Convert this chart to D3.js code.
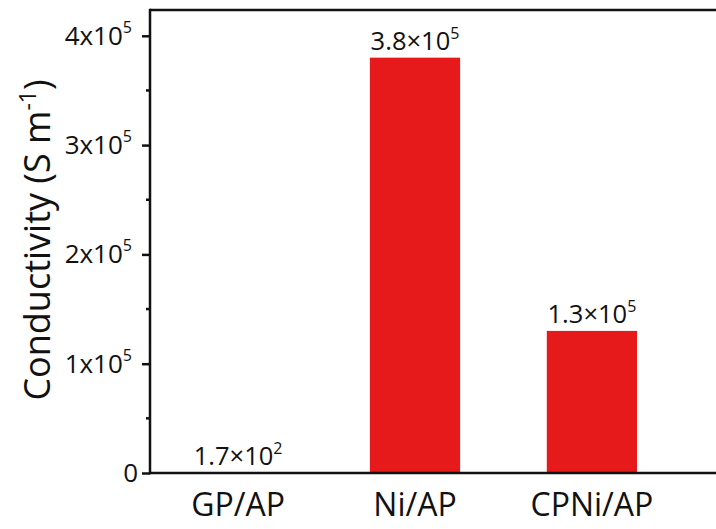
<!DOCTYPE html>
<html>
<head>
<meta charset="utf-8">
<script src="https://cdn.jsdelivr.net/npm/d3@7"></script>
<style>
  body { margin: 0; background: #fff; }
  text { font-family: "Open Sans", Lato, sans-serif; fill: #111; }
</style>
</head>
<body>
<svg id="chart" width="716" height="529"></svg>
<script>
"use strict";

// data
var categories = ["GP/AP", "Ni/AP", "CPNi/AP"];
var values = [170, 380000, 130000];
var valueMant = ["1.7", "3.8", "1.3"];
var valueExp = ["2", "5", "5"];
var yTicks = [0, 100000, 200000, 300000, 400000];
var yTickLabels = ["0", "1", "2", "3", "4"];

var svg = d3.select("#chart");
var plotLeft = 150, plotTop = 10, plotBottom = 473, plotRight = 716;

var x = d3.scaleBand()
  .domain(categories)
  .range([plotLeft, 680])
  .paddingInner(0.49)
  .paddingOuter(0.243);

var y = d3.scaleLinear()
  .domain([0, 423600])
  .range([plotBottom, plotTop]);

// bars
svg.selectAll(".bar")
  .data(values)
  .enter().append("rect")
  .attr("class", "bar")
  .attr("x", function (d, i) { return x(categories[i]); })
  .attr("width", x.bandwidth())
  .attr("y", function (d) { return y(d); })
  .attr("height", function (d) { return plotBottom - y(d); })
  .attr("fill", "#e6191b");

// value labels
var vl = svg.selectAll(".vlab")
  .data(values)
  .enter().append("text")
  .attr("class", "vlab")
  .attr("x", function (d, i) { return x(categories[i]) + x.bandwidth() / 2; })
  .attr("y", function (d) { return y(d) - 8; })
  .attr("text-anchor", "middle")
  .style("font-size", "25.5px");
vl.append("tspan").text(function (d, i) { return valueMant[i] + "×10"; });
vl.append("tspan")
  .attr("dy", -11)
  .style("font-size", "16px")
  .text(function (d, i) { return valueExp[i]; });

// y axis
var yAxis = d3.axisLeft(y)
  .tickValues(yTicks)
  .tickSize(8)
  .tickFormat("");
var gy = svg.append("g")
  .attr("transform", "translate(" + plotLeft + ",0)")
  .call(yAxis);
gy.select(".domain").remove();
gy.selectAll(".tick line").attr("stroke", "#111").attr("stroke-width", 2.5);

// minor ticks
var minor = d3.range(50000, 423600, 100000);
svg.selectAll(".minor")
  .data(minor)
  .enter().append("line")
  .attr("x1", plotLeft - 4).attr("x2", plotLeft)
  .attr("y1", function (d) { return y(d); })
  .attr("y2", function (d) { return y(d); })
  .attr("stroke", "#111").attr("stroke-width", 2.5);

// tick labels
var tl = svg.selectAll(".ytl")
  .data(yTicks)
  .enter().append("text")
  .attr("class", "ytl")
  .attr("x", function (d) { return d === 0 ? plotLeft - 12 : plotLeft - 18; })
  .attr("y", function (d) { return y(d) + 9; })
  .attr("text-anchor", "end")
  .style("font-size", "26px");
tl.append("tspan").text(function (d, i) { return d === 0 ? "0" : yTickLabels[i] + "x10"; });
tl.filter(function (d) { return d !== 0; })
  .append("tspan")
  .attr("dy", -12)
  .style("font-size", "16px")
  .text("5");

// frame lines
svg.append("line")
  .attr("x1", plotLeft).attr("x2", plotRight)
  .attr("y1", plotTop).attr("y2", plotTop)
  .attr("stroke", "#111").attr("stroke-width", 2.5);
svg.append("line")
  .attr("x1", plotLeft).attr("x2", plotRight)
  .attr("y1", plotBottom).attr("y2", plotBottom)
  .attr("stroke", "#111").attr("stroke-width", 2.5);
svg.append("line")
  .attr("x1", plotLeft).attr("x2", plotLeft)
  .attr("y1", plotTop - 1.25).attr("y2", plotBottom + 1.25)
  .attr("stroke", "#111").attr("stroke-width", 2.5);

// x axis labels
svg.selectAll(".xl")
  .data(categories)
  .enter().append("text")
  .attr("class", "xl")
  .attr("x", function (d) { return x(d) + x.bandwidth() / 2; })
  .attr("y", 516)
  .attr("text-anchor", "middle")
  .style("font-size", "32px")
  .text(function (d) { return d; });

// y title
var yt = svg.append("text")
  .attr("transform", "translate(50,240) rotate(-90)")
  .attr("text-anchor", "middle")
  .style("font-size", "36px");
yt.append("tspan").text("Conductivity (S m");
yt.append("tspan").attr("dy", -14).style("font-size", "23px").text("-1");
yt.append("tspan").attr("dy", 14).text(")");
</script>
</body>
</html>
